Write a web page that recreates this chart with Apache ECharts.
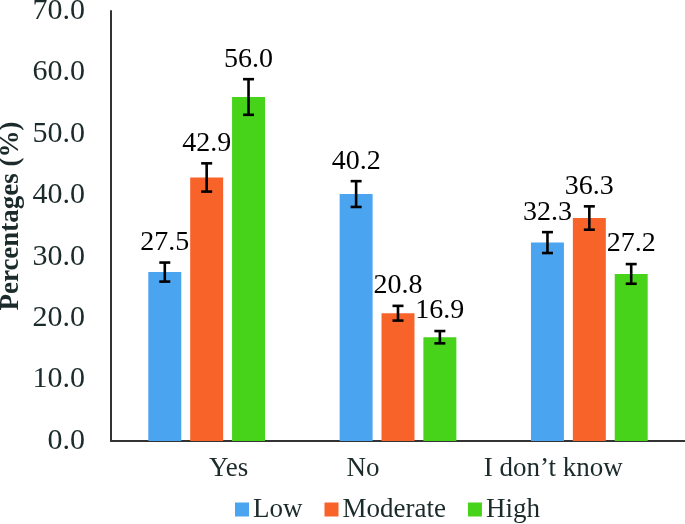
<!DOCTYPE html>
<html>
<head>
<meta charset="utf-8">
<script src="https://cdn.jsdelivr.net/npm/echarts@6/dist/echarts.min.js"></script>
<style>
  html, body { margin: 0; padding: 0; background: #fff; }
  #tu1 { width: 685px; height: 524px; }
</style>
</head>
<body>
<div id="tu1"></div>
<script>
// data
const categories = ['Yes', 'No', 'I don\u2019t know']
const seriesNames = ['Low', 'Moderate', 'High']
const lowValues = [27.5, 40.2, 32.3]
const moderateValues = [42.9, 20.8, 36.3]
const highValues = [56.0, 16.9, 27.2]
const lowErrors = [1.55, 2.1, 1.7]
const moderateErrors = [2.3, 1.2, 1.9]
const highErrors = [2.9, 1.0, 1.6]
const yTicks = [0, 10, 20, 30, 40, 50, 60, 70]

const values = [lowValues, moderateValues, highValues]
const errors = [lowErrors, moderateErrors, highErrors]
const colors = ['#4ba4ef', '#f8632a', '#46d31a']
const serif = '"Liberation Serif", "Times New Roman", serif'
const catGap = 0.39
const barGap = 0.27

// x-axis label shifts (labels in the source sit off the category centres)
const labelPad = {
  a: [0, 0, 0, 44],
  b: [0, 70, 0, 0],
  c: [0, 72, 0, 0]
}

function errorSeries(idx) {
  return {
    type: 'custom',
    name: seriesNames[idx] + ' err',
    z: 5,
    silent: true,
    data: values[idx].map((v, i) => [i, v, errors[idx][i]]),
    renderItem: function(params, api) {
      const band = api.size([1, 0])[0]
      const groupW = band * (1 - catGap)
      const barW = groupW / (3 + 2 * barGap)
      const off = (idx - 1) * barW * (1 + barGap)
      const val = api.value(1)
      const err = api.value(2)
      const c = api.coord([api.value(0), val])
      const hi = api.coord([api.value(0), val + err])
      const lo = api.coord([api.value(0), val - err])
      const x = c[0] + off
      const cap = 5.5
      const st = { stroke: '#000', lineWidth: 2.6 }
      return {
        type: 'group',
        children: [
          { type: 'line', shape: { x1: x, y1: hi[1], x2: x, y2: lo[1] }, style: st },
          { type: 'line', shape: { x1: x - cap, y1: hi[1], x2: x + cap, y2: hi[1] }, style: st },
          { type: 'line', shape: { x1: x - cap, y1: lo[1], x2: x + cap, y2: lo[1] }, style: st },
          {
            type: 'text',
            x: x,
            y: hi[1] - 6,
            style: {
              text: val.toFixed(1),
              fill: '#000',
              font: '28px ' + serif,
              textAlign: 'center',
              textVerticalAlign: 'bottom'
            }
          }
        ]
      }
    }
  }
}

const option = {
  animation: false,
  color: colors,
  grid: { left: 111, right: 0, top: 11, bottom: 83, containLabel: false, outerBoundsMode: 'none' },
  legend: {
    data: seriesNames,
    left: 230,
    bottom: -4,
    itemWidth: 14,
    itemHeight: 14,
    itemGap: 22,
    icon: 'rect',
    textStyle: { fontFamily: serif, fontSize: 27, color: '#1b2a2a', padding: [0, 0, 0, -1] }
  },
  xAxis: {
    type: 'category',
    data: categories,
    axisTick: { show: false },
    axisLine: { lineStyle: { color: '#333', width: 2 } },
    axisLabel: {
      margin: 14,
      formatter: function(v, i) {
        return '{' + 'abc'[i] + '|' + v + '}'
      },
      rich: {
        a: { fontFamily: serif, fontSize: 27, color: '#1b2a2a', padding: labelPad.a },
        b: { fontFamily: serif, fontSize: 27, color: '#1b2a2a', padding: labelPad.b },
        c: { fontFamily: serif, fontSize: 27, color: '#1b2a2a', padding: labelPad.c }
      }
    }
  },
  yAxis: {
    type: 'value',
    min: yTicks[0],
    max: yTicks[yTicks.length - 1],
    interval: 10,
    name: 'Percentages (%)',
    nameLocation: 'middle',
    nameGap: 86,
    nameMoveOverlap: false,
    nameTextStyle: { fontFamily: serif, fontSize: 27, fontWeight: 'bold', color: '#1b2a2a', padding: [0, 0, 0, 20] },
    splitLine: { show: false },
    axisLine: { show: true, lineStyle: { color: '#333', width: 2 } },
    axisLabel: {
      margin: 26,
      fontFamily: serif,
      fontSize: 30,
      color: '#1b2a2a',
      formatter: v => v.toFixed(1)
    }
  },
  series: [
    { type: 'bar', name: seriesNames[0], data: lowValues, barGap: (barGap * 100) + '%', barCategoryGap: (catGap * 100) + '%' },
    { type: 'bar', name: seriesNames[1], data: moderateValues },
    { type: 'bar', name: seriesNames[2], data: highValues },
    errorSeries(0),
    errorSeries(1),
    errorSeries(2)
  ]
}

const myChart = echarts.init(document.getElementById('tu1'))
myChart.setOption(option)
</script>
</body>
</html>
